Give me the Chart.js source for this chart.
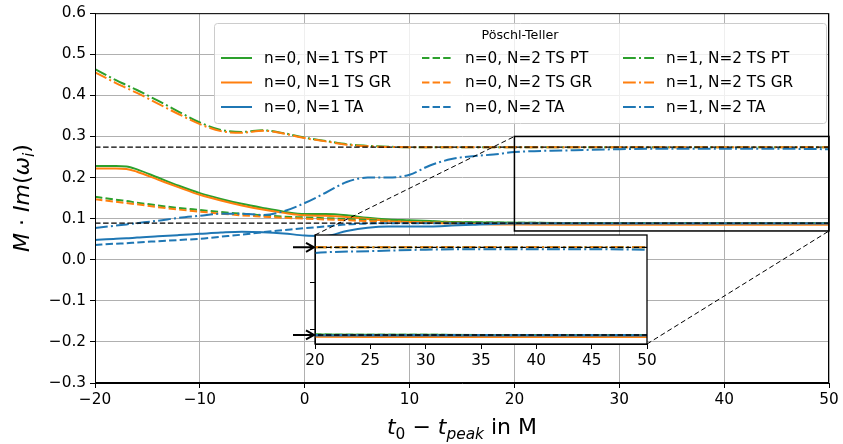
<!DOCTYPE html>
<html>
<head>
<meta charset="utf-8">
<script src="https://cdn.jsdelivr.net/npm/chart.js@4"></script>
<style>
html, body { margin: 0; padding: 0; background: #fff; }
#wrap { position: relative; width: 843px; height: 444px; }
#main { position: absolute; left: 0; top: 0; }
#inset { position: absolute; left: 280px; top: 228px; }
</style>
</head>
<body>
<div id="wrap">
  <canvas id="main" width="843" height="444"></canvas>
  <canvas id="inset" width="390" height="150"></canvas>
</div>
<script>
// start times t0 - t_peak (M)
var T = [-20, -18, -17, -16, -14, -12, -10, -8, -6, -4, -2, 0, 2, 4, 6, 8, 10, 12, 14, 16, 18, 20, 25, 30, 35, 40, 45, 50];

// M * Im(omega) of the fitted modes
var n0N1_PT = [.228, .228, .227, .220, .200, .180, .162, .148, .136, .126, .117, .111, .111, .108, .102, .098, .096, .094, .092, .091, .0905, .090, .0895, .0893, .0892, .0892, .0891, .0891];
var n0N1_GR = [.222, .222, .221, .214, .195, .176, .158, .144, .132, .122, .114, .108, .107, .104, .099, .095, .092, .090, .088, .087, .086, .0855, .085, .085, .085, .085, .085, .085];
var n0N1_TA = [.048, .051, .052, .054, .057, .060, .063, .066, .068, .067, .064, .059, .058, .070, .078, .081, .081, .081, .083, .085, .087, .088, .088, .088, .088, .088, .088, .088];
var n0N2_PT = [.153, .146, .143, .139, .132, .126, .121, .116, .112, .108, .105, .103, .101, .099, .097, .095, .094, .093, .092, .091, .0905, .090, .0895, .0893, .0892, .0891, .0891, .0891];
var n0N2_GR = [.147, .141, .138, .135, .128, .122, .117, .112, .108, .105, .102, .100, .098, .096, .094, .093, .092, .091, .090, .0895, .0892, .089, .089, .089, .089, .089, .089, .089];
var n0N2_TA = [.036, .039, .040, .042, .045, .048, .051, .056, .061, .067, .072, .077, .081, .086, .088, .089, .089, .089, .089, .089, .089, .089, .089, .089, .089, .089, .089, .089];
var n1N2_PT = [.464, .437, .425, .413, .387, .360, .334, .316, .311, .315, .308, .297, .289, .281, .277, .275, .274, .274, .274, .274, .274, .274, .274, .274, .274, .274, .274, .274];
var n1N2_GR = [.456, .430, .418, .406, .380, .354, .330, .313, .309, .314, .307, .296, .288, .280, .276, .2745, .274, .274, .274, .274, .274, .274, .274, .274, .274, .274, .274, .274];
var n1N2_TA = [.077, .083, .086, .089, .095, .102, .107, .112, .112, .109, .118, .138, .163, .189, .200, .200, .207, .230, .245, .252, .256, .262, .266, .269, .270, .270, .270, .269];

// Schwarzschild QNM reference values (n=0, n=1)
var REF_LEVELS = [0.0890, 0.2739];

var ZOOM_X = [20, 50];
var ZOOM_Y = [0.07, 0.30];
var INSET_Y_TICKS = [0.1, 0.2];

var GREEN = '#2ca02c', ORANGE = '#ff7f0e', BLUE = '#1f77b4';
var SOLID = [], DASHED = [7.4, 3.2], DASHDOT = [12.8, 3.2, 2, 3.2];

var SERIES = [
    { label: 'n=0, N=1 TS PT', y: n0N1_PT, color: GREEN,  dash: SOLID },
    { label: 'n=0, N=1 TS GR', y: n0N1_GR, color: ORANGE, dash: SOLID },
    { label: 'n=0, N=1 TA',    y: n0N1_TA, color: BLUE,   dash: SOLID },
    { label: 'n=0, N=2 TS PT', y: n0N2_PT, color: GREEN,  dash: DASHED },
    { label: 'n=0, N=2 TS GR', y: n0N2_GR, color: ORANGE, dash: DASHED },
    { label: 'n=0, N=2 TA',    y: n0N2_TA, color: BLUE,   dash: DASHED },
    { label: 'n=1, N=2 TS PT', y: n1N2_PT, color: GREEN,  dash: DASHDOT },
    { label: 'n=1, N=2 TS GR', y: n1N2_GR, color: ORANGE, dash: DASHDOT },
    { label: 'n=1, N=2 TA',    y: n1N2_TA, color: BLUE,   dash: DASHDOT }
];

// inset plot box in page pixels, and where its canvas sits
var INSET_BOX = { left: 315, top: 235, right: 647, bottom: 344 };
var INSET_CANVAS = { left: 280, top: 228 };

var FONT = 'DejaVu Sans';
var FS = 15.3;
Chart.defaults.font.family = FONT;
Chart.defaults.color = '#000';

function makeDatasets() {
    var sets = SERIES.map(function (s, i) {
        return {
            label: s.label,
            data: T.map(function (x, k) { return { x: x, y: s.y[k] }; }),
            borderColor: s.color,
            borderDash: s.dash,
            borderWidth: 2,
            pointRadius: 0,
            fill: false,
            cubicInterpolationMode: 'monotone',
            order: 20 - i
        };
    });
    REF_LEVELS.forEach(function (v) {
        sets.push({
            label: 'ref',
            data: [{ x: -20, y: v }, { x: 50, y: v }],
            borderColor: '#000',
            borderDash: [5.5, 2.6],
            borderWidth: 1.3,
            pointRadius: 0,
            fill: false,
            order: 0
        });
    });
    return sets;
}

function minusFmt(v, digits) {
    var s = Number(v).toFixed(digits);
    return s.replace('-', '\u2212');
}

function fontFor(p, size) {
    var sz = p.sub ? size * 0.7 : size;
    return (p.it ? 'italic ' : '') + sz + 'px "' + FONT + '"';
}

function drawRich(ctx, parts, cx, baseY, size) {
    var widths = parts.map(function (p) { ctx.font = fontFor(p, size); return ctx.measureText(p.t).width; });
    var total = widths.reduce(function (a, b) { return a + b; }, 0);
    var x = cx - total / 2;
    ctx.textAlign = 'left';
    ctx.textBaseline = 'alphabetic';
    parts.forEach(function (p, i) {
        ctx.font = fontFor(p, size);
        ctx.fillText(p.t, x, baseY + (p.sub ? size * 0.22 : 0));
        x += widths[i];
    });
}

function drawLegend(ctx) {
    var bx = 214, by = 23, bw = 612, bh = 100;
    ctx.save();
    ctx.beginPath();
    ctx.roundRect(bx + 0.5, by + 0.5, bw, bh, 3);
    ctx.fillStyle = 'rgba(255,255,255,0.8)';
    ctx.fill();
    ctx.strokeStyle = '#cccccc';
    ctx.lineWidth = 1;
    ctx.stroke();

    ctx.fillStyle = '#000';
    ctx.font = '12.7px "' + FONT + '"';
    ctx.textAlign = 'center';
    ctx.textBaseline = 'middle';
    ctx.fillText('P\u00f6schl-Teller', bx + bw / 2, 36);

    ctx.font = FS + 'px "' + FONT + '"';
    ctx.textAlign = 'left';
    SERIES.forEach(function (s, i) {
        var col = Math.floor(i / 3), row = i % 3;
        var x0 = 221 + col * 201, y = 58 + row * 24.5;
        ctx.beginPath();
        ctx.setLineDash(s.dash);
        ctx.strokeStyle = s.color;
        ctx.lineWidth = 2;
        ctx.moveTo(x0, y);
        ctx.lineTo(x0 + 31, y);
        ctx.stroke();
        ctx.setLineDash([]);
        ctx.fillStyle = '#000';
        ctx.fillText(s.label, x0 + 43, y + 1);
    });
    ctx.restore();
}

var mainDecor = {
    id: 'mainDecor',
    afterDraw: function (chart) {
        var ctx = chart.ctx, a = chart.chartArea;
        var xs = chart.scales.x, ys = chart.scales.y;
        ctx.save();

        // full frame
        ctx.strokeStyle = '#000';
        ctx.lineWidth = 1;
        ctx.strokeRect(a.left + 0.5, a.top + 0.5, a.right - a.left - 1, a.bottom - a.top - 1);

        // zoomed region and connectors to the inset
        var rx0 = xs.getPixelForValue(ZOOM_X[0]), rx1 = xs.getPixelForValue(ZOOM_X[1]);
        var ry0 = ys.getPixelForValue(ZOOM_Y[1]), ry1 = ys.getPixelForValue(ZOOM_Y[0]);
        ctx.lineWidth = 1.5;
        ctx.strokeRect(rx0, ry0, rx1 - rx0, ry1 - ry0);

        ctx.setLineDash([5, 3]);
        ctx.lineWidth = 1;
        ctx.beginPath();
        ctx.moveTo(INSET_BOX.left, INSET_BOX.top);
        ctx.lineTo(rx0, ry0);
        ctx.moveTo(INSET_BOX.right, INSET_BOX.bottom);
        ctx.lineTo(rx1, ry1);
        ctx.stroke();
        ctx.setLineDash([]);

        drawLegend(ctx);

        // axis titles
        ctx.fillStyle = '#000';
        drawRich(ctx, [
            { t: 't', it: true }, { t: '0', sub: true }, { t: ' \u2212 ' },
            { t: 't', it: true }, { t: 'peak', it: true, sub: true }, { t: ' in M' }
        ], (a.left + a.right) / 2, 434, 22);

        ctx.save();
        ctx.translate(29, (a.top + a.bottom) / 2);
        ctx.rotate(-Math.PI / 2);
        drawRich(ctx, [
            { t: 'M', it: true }, { t: ' \u00b7 ' }, { t: 'Im', it: true }, { t: '(' },
            { t: '\u03c9', it: true }, { t: 'i', it: true, sub: true }, { t: ')' }
        ], 0, 0, 22);
        ctx.restore();

        ctx.restore();
    }
};

var insetDecor = {
    id: 'insetDecor',
    beforeDraw: function (chart) {
        var ctx = chart.ctx, a = chart.chartArea;
        ctx.save();
        ctx.fillStyle = '#fff';
        ctx.fillRect(a.left, a.top, a.right - a.left, a.bottom - a.top);
        ctx.restore();
    },
    afterDraw: function (chart) {
        var ctx = chart.ctx, a = chart.chartArea, ys = chart.scales.y;
        ctx.save();
        ctx.strokeStyle = '#000';
        ctx.lineWidth = 1.3;
        ctx.strokeRect(a.left, a.top, a.right - a.left, a.bottom - a.top);

        // arrows marking the reference frequencies
        ctx.lineWidth = 2;
        REF_LEVELS.forEach(function (v) {
            var y = ys.getPixelForValue(v);
            var tip = a.left - 1;
            ctx.beginPath();
            ctx.moveTo(13, y);
            ctx.lineTo(tip, y);
            ctx.moveTo(tip - 8, y - 4.5);
            ctx.lineTo(tip, y);
            ctx.lineTo(tip - 8, y + 4.5);
            ctx.stroke();
        });
        ctx.restore();
    }
};

var tickFont = { size: FS };

new Chart(document.getElementById('main'), {
    type: 'line',
    data: { datasets: makeDatasets() },
    options: {
        responsive: false,
        animation: false,
        layout: { padding: { left: 0, top: 13, right: 14, bottom: 0 } },
        scales: {
            x: {
                type: 'linear', min: -20, max: 50,
                afterFit: function (s) { s.height = 61; },
                ticks: { stepSize: 10, maxRotation: 0, autoSkip: false, padding: 3, font: tickFont,
                         callback: function (v) { return minusFmt(v, 0); } },
                grid: { color: '#b0b0b0', lineWidth: 1, tickColor: '#000', tickLength: 5 },
                border: { color: '#000', width: 1 }
            },
            y: {
                type: 'linear', min: -0.3, max: 0.6,
                afterFit: function (s) { s.width = 95; },
                ticks: { stepSize: 0.1, autoSkip: false, padding: 4, font: tickFont,
                         callback: function (v) { return minusFmt(v, 1); } },
                grid: { color: '#b0b0b0', lineWidth: 1, tickColor: '#000', tickLength: 5 },
                border: { color: '#000', width: 1 }
            }
        },
        plugins: { legend: { display: false }, tooltip: { enabled: false } }
    },
    plugins: [mainDecor]
});

new Chart(document.getElementById('inset'), {
    type: 'line',
    data: { datasets: makeDatasets() },
    options: {
        responsive: false,
        animation: false,
        layout: { padding: { left: 0, top: INSET_BOX.top - INSET_CANVAS.top, right: 390 - (INSET_BOX.right - INSET_CANVAS.left), bottom: 0 } },
        scales: {
            x: {
                type: 'linear', min: ZOOM_X[0], max: ZOOM_X[1],
                afterFit: function (s) { s.height = 150 - (INSET_BOX.bottom - INSET_CANVAS.top); },
                ticks: { stepSize: 5, maxRotation: 0, autoSkip: false, padding: 3, font: tickFont },
                grid: { drawOnChartArea: false, tickColor: '#000', tickLength: 5 },
                border: { color: '#000', width: 1 }
            },
            y: {
                type: 'linear', min: ZOOM_Y[0], max: ZOOM_Y[1],
                afterFit: function (s) { s.width = INSET_BOX.left - INSET_CANVAS.left; },
                afterBuildTicks: function (s) { s.ticks = INSET_Y_TICKS.map(function (v) { return { value: v }; }); },
                ticks: { display: false },
                grid: { drawOnChartArea: false, tickColor: '#000', tickLength: 5 },
                border: { color: '#000', width: 1 }
            }
        },
        plugins: { legend: { display: false }, tooltip: { enabled: false } }
    },
    plugins: [insetDecor]
});
</script>
</body>
</html>
